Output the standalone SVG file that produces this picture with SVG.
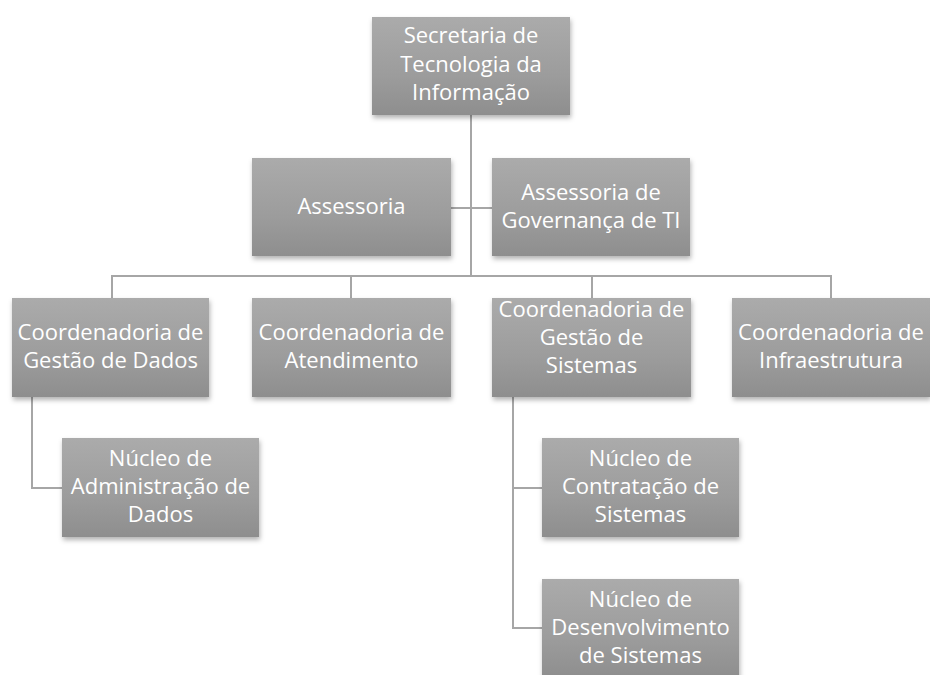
<svg xmlns="http://www.w3.org/2000/svg" width="930" height="675" viewBox="0 0 930 675">
<style>
.box{fill:url(#g);filter:url(#sh)}
.t{font-family:"Open Sans","Liberation Sans",sans-serif;font-size:22px;fill:#ffffff;text-anchor:middle}
.c{fill:none;stroke:#a6a6a6;stroke-width:2}
</style>
<defs>
<linearGradient id="g" x1="0" y1="0" x2="0" y2="1">
<stop offset="0" stop-color="#ababab"/>
<stop offset="0.6" stop-color="#9c9c9c"/>
<stop offset="1" stop-color="#8e8e8e"/>
</linearGradient>
<filter id="sh" x="-10%" y="-10%" width="125%" height="130%">
<feDropShadow dx="1" dy="3" stdDeviation="2.5" flood-color="#000" flood-opacity="0.3"/>
</filter>
</defs>
<rect width="930" height="675" fill="#ffffff"/>
<g id="connectors">
<path class="c" d="M471 115 V276"/>
<path class="c" d="M451 208 H492"/>
<path class="c" d="M112 298 V276 H831 V298"/>
<path class="c" d="M351 276 V298"/>
<path class="c" d="M592 276 V298"/>
<path class="c" d="M32 397 V488 H62"/>
<path class="c" d="M513 397 V628 H542"/>
<path class="c" d="M513 488 H542"/>
</g>
<g id="n-secretaria">
<rect class="box" x="372" y="17" width="198" height="98"/>
<text class="t" x="471" y="43">Secretaria de</text>
<text class="t" x="471" y="72">Tecnologia da</text>
<text class="t" x="471" y="100">Informação</text>
</g>
<g id="n-assessoria">
<rect class="box" x="252" y="158" width="199" height="98"/>
<text class="t" x="351.5" y="214">Assessoria</text>
</g>
<g id="n-governanca">
<rect class="box" x="492" y="158" width="198" height="98"/>
<text class="t" x="591" y="200">Assessoria de</text>
<text class="t" x="591" y="228">Governança de TI</text>
</g>
<g id="n-coord-dados">
<rect class="box" x="12" y="298" width="197" height="99"/>
<text class="t" x="110.5" y="340">Coordenadoria de</text>
<text class="t" x="110.5" y="368">Gestão de Dados</text>
</g>
<g id="n-coord-atendimento">
<rect class="box" x="252" y="298" width="199" height="99"/>
<text class="t" x="351.5" y="340">Coordenadoria de</text>
<text class="t" x="351.5" y="368">Atendimento</text>
</g>
<g id="n-coord-sistemas">
<rect class="box" x="492" y="298" width="199" height="99"/>
<text class="t" x="591.5" y="317">Coordenadoria de</text>
<text class="t" x="591.5" y="345">Gestão de</text>
<text class="t" x="591.5" y="373">Sistemas</text>
</g>
<g id="n-coord-infra">
<rect class="box" x="732" y="298" width="198" height="99"/>
<text class="t" x="831" y="340">Coordenadoria de</text>
<text class="t" x="831" y="368">Infraestrutura</text>
</g>
<g id="n-nucleo-dados">
<rect class="box" x="62" y="438" width="197" height="99"/>
<text class="t" x="160.5" y="466">Núcleo de</text>
<text class="t" x="160.5" y="494">Administração de</text>
<text class="t" x="160.5" y="522">Dados</text>
</g>
<g id="n-nucleo-contratacao">
<rect class="box" x="542" y="438" width="197" height="99"/>
<text class="t" x="640.5" y="466">Núcleo de</text>
<text class="t" x="640.5" y="494">Contratação de</text>
<text class="t" x="640.5" y="522">Sistemas</text>
</g>
<g id="n-nucleo-desenv">
<rect class="box" x="542" y="579" width="197" height="99"/>
<text class="t" x="640.5" y="607">Núcleo de</text>
<text class="t" x="640.5" y="635">Desenvolvimento</text>
<text class="t" x="640.5" y="663">de Sistemas</text>
</g>
</svg>
